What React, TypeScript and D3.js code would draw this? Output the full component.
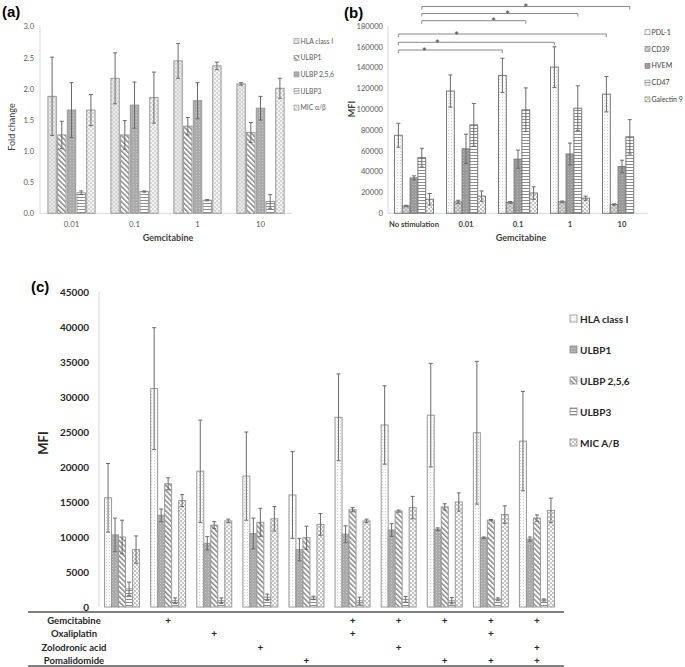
import React from 'react';
import * as d3 from 'd3';

// ---------- Panel (a) data ----------
const aCategories = ['0.01', '0.1', '1', '10'];
const aSeries = ['HLA class I', 'ULBP1', 'ULBP 2,5,6', 'ULBP3', 'MIC α/β'];
const aHLA = [1.88, 2.17, 2.45, 2.08];
const aHLAErr = [0.63, 0.41, 0.28, 0.02];
const aULBP1 = [1.26, 1.26, 1.4, 1.3];
const aULBP1Err = [0.22, 0.23, 0.14, 0.16];
const aULBP256 = [1.66, 1.74, 1.81, 1.69];
const aULBP256Err = [0.44, 0.37, 0.29, 0.19];
const aULBP3 = [0.33, 0.35, 0.21, 0.19];
const aULBP3Err = [0.03, 0.01, 0.01, 0.11];
const aMIC = [1.66, 1.86, 2.37, 2.01];
const aMICErr = [0.25, 0.41, 0.06, 0.16];
const aTicks = ['0.0', '0.5', '1.0', '1.5', '2.0', '2.5', '3.0'];

// ---------- Panel (b) data ----------
const bCategories = ['No stimulation', '0.01', '0.1', '1', '10'];
const bSeries = ['PDL-1', 'CD39', 'HVEM', 'CD47', 'Galectin 9'];
const bPDL1 = [75000, 117500, 132500, 140500, 114500];
const bPDL1Err = [11500, 15500, 16500, 19500, 17000];
const bCD39 = [7000, 11000, 10500, 11000, 8500];
const bCD39Err = [700, 1500, 800, 800, 600];
const bHVEM = [34000, 62000, 52000, 57000, 45000];
const bHVEMErr = [2000, 14000, 8700, 10500, 6000];
const bCD47 = [53500, 85000, 99500, 101000, 73500];
const bCD47Err = [9000, 20500, 21000, 21500, 16500];
const bGal9 = [13500, 16500, 19500, 14500, 0];
const bGal9Err = [5500, 5000, 6000, 2000, 0];
const bTicks = [0, 20000, 40000, 60000, 80000, 100000, 120000, 140000, 160000, 180000];
// significance brackets: series index, from group, to group, star position (fraction)
const bBrackets = [
  { series: 3, from: 0, to: 4, star: 0.5, level: 0 },
  { series: 3, from: 0, to: 3, star: 0.55, level: 1 },
  { series: 3, from: 0, to: 2, star: 0.69, level: 2 },
  { series: 0, from: 0, to: 4, star: 0.28, level: 3 },
  { series: 0, from: 0, to: 3, star: 0.25, level: 4 },
  { series: 0, from: 0, to: 2, star: 0.25, level: 5 },
];

// ---------- Panel (c) data ----------
const cGroups = ['g1', 'g2', 'g3', 'g4', 'g5', 'g6', 'g7', 'g8', 'g9', 'g10'];
const cSeries = ['HLA class I', 'ULBP1', 'ULBP 2,5,6', 'ULBP3', 'MIC A/B'];
const cHLA = [15600, 31200, 19400, 18700, 16000, 27100, 26000, 27400, 24900, 23700];
const cHLAErr = [4900, 8700, 7300, 6300, 6200, 6200, 5600, 7400, 10200, 7100];
const cULBP1 = [10300, 13100, 9100, 10500, 8200, 10400, 11000, 11100, 9900, 9700];
const cULBP1Err = [2400, 900, 950, 2200, 1600, 1200, 900, 200, 100, 300];
const cULBP256 = [10000, 17600, 11700, 12100, 9900, 13900, 13700, 14300, 12400, 12700];
const cULBP256Err = [2400, 850, 500, 2000, 1650, 300, 150, 450, 100, 450];
const cULBP3 = [2600, 900, 900, 1400, 1300, 900, 1100, 900, 1100, 1000];
const cULBP3Err = [950, 400, 400, 450, 250, 500, 400, 450, 200, 150];
const cMIC = [8200, 15200, 12300, 12600, 11800, 12300, 14200, 15000, 13200, 13800];
const cMICErr = [1950, 850, 250, 1750, 1550, 250, 1600, 1300, 1250, 1750];
const cTicks = [0, 5000, 10000, 15000, 20000, 25000, 30000, 35000, 40000, 45000];
const cDrugs = ['Gemcitabine', 'Oxaliplatin', 'Zolodronic acid', 'Pomalidomide'];
const cGem = [0, 1, 0, 0, 0, 1, 1, 1, 1, 1];
const cOxa = [0, 0, 1, 0, 0, 1, 0, 0, 1, 0];
const cZol = [0, 0, 0, 1, 0, 0, 1, 0, 0, 1];
const cPom = [0, 0, 0, 0, 1, 0, 0, 1, 1, 1];

const FONT = "Lato, 'Open Sans', 'Liberation Sans', sans-serif";

function Patterns() {
  const P = (id: string, w: number, children: React.ReactNode, transform?: string) => (
    <pattern id={id} width={w} height={w} patternUnits="userSpaceOnUse" patternTransform={transform}>
      {children}
    </pattern>
  );
  return (
    <defs>
      {P('dotsLight', 3, <>
        <rect width={3} height={3} fill="#fbfbfb" />
        <rect x={1} y={1} width={1} height={1} fill="#d2d2d2" />
      </>)}
      {P('crossLight', 4, <>
        <rect width={4} height={4} fill="#ebebeb" />
        <path d="M0,0 L4,4 M4,0 L0,4" stroke="#cdcdcd" strokeWidth={0.8} />
      </>)}
      {P('crossMid', 4, <>
        <rect width={4} height={4} fill="#dadada" />
        <path d="M0,0 L4,4 M4,0 L0,4" stroke="#a9a9a9" strokeWidth={0.8} />
      </>)}
      {P('diag', 3.6, <>
        <rect width={3.6} height={3.6} fill="#ffffff" />
        <rect width={1.5} height={3.6} fill="#8a8a8a" />
      </>, 'rotate(-45)')}
      {P('darkDots', 3, <>
        <rect width={3} height={3} fill="#ababab" />
        <rect x={1} y={1} width={1} height={1} fill="#c6c6c6" />
      </>)}
      {P('darkDotsB', 3, <>
        <rect width={3} height={3} fill="#9a9a9a" />
        <rect x={1} y={1} width={1} height={1} fill="#b8b8b8" />
      </>)}
      {P('horiz', 3, <>
        <rect width={3} height={3} fill="#ffffff" />
        <rect y={2} width={3} height={1} fill="#8c8c8c" />
      </>)}
      {P('checker', 4, <>
        <rect width={4} height={4} fill="#ffffff" />
        <rect width={2} height={2} fill="#c4c4c4" />
        <rect x={2} y={2} width={2} height={2} fill="#c4c4c4" />
      </>)}
      {P('checkerLight', 4, <>
        <rect width={4} height={4} fill="#f4f4f4" />
        <rect width={2} height={2} fill="#d6d6d6" />
        <rect x={2} y={2} width={2} height={2} fill="#d6d6d6" />
      </>)}
    </defs>
  );
}

type Series = { name: string; values: number[]; errors: number[]; fill: string };

function Bars({ series, x, y, barW, gap, stroke, capW, errColor }: {
  series: Series[]; x: d3.ScaleBand<string>; y: d3.ScaleLinear<number, number>;
  barW: number; gap: number; stroke: string; capW: number; errColor: string;
}) {
  const cats = x.domain();
  const groupW = series.length * barW + (series.length - 1) * gap;
  const out: React.ReactNode[] = [];
  cats.forEach((c, gi) => {
    const cx = (x(c) as number) + x.bandwidth() / 2;
    const start = cx - groupW / 2;
    series.forEach((s, si) => {
      const v = s.values[gi];
      if (!v) return;
      const bx = start + si * (barW + gap);
      const y0 = y(0);
      const yv = y(v);
      out.push(
        <rect key={`b${gi}-${si}`} x={bx} y={yv} width={barW} height={y0 - yv}
          fill={s.fill} stroke={stroke} strokeWidth={1} />
      );
      const e = s.errors[gi];
      if (e) {
        const mx = bx + barW / 2;
        const yt = y(v + e);
        const yb = y(v - e);
        out.push(
          <g key={`e${gi}-${si}`} stroke={errColor} strokeWidth={1} fill="none">
            <line x1={mx} x2={mx} y1={yt} y2={yb} />
            <line x1={mx - capW / 2} x2={mx + capW / 2} y1={yt} y2={yt} />
            <line x1={mx - capW / 2} x2={mx + capW / 2} y1={yb} y2={yb} />
          </g>
        );
      }
    });
  });
  return <g>{out}</g>;
}

function PanelA() {
  const x = d3.scaleBand<string>().domain(aCategories).range([40, 292]);
  const y = d3.scaleLinear().domain([0, 3]).range([213.3, 26.7]);
  const fills = ['url(#crossLight)', 'url(#diag)', 'url(#darkDots)', 'url(#horiz)', 'url(#checkerLight)'];
  const vals = [aHLA, aULBP1, aULBP256, aULBP3, aMIC];
  const errs = [aHLAErr, aULBP1Err, aULBP256Err, aULBP3Err, aMICErr];
  const series: Series[] = aSeries.map((n, i) => ({ name: n, values: vals[i], errors: errs[i], fill: fills[i] }));
  return (
    <g fontFamily={FONT}>
      <text x={2} y={17} fontSize={15} fontWeight="bold" fontFamily="'Liberation Sans', Arial, sans-serif">(a)</text>
      <line x1={40} x2={40} y1={26.7} y2={213.3} stroke="#d9d9d9" />
      <line x1={40} x2={292} y1={213.3} y2={213.3} stroke="#d9d9d9" />
      {aTicks.map((t) => (
        <text key={t} x={34} y={y(+t) + 2.7} fontSize={7.5} fill="#595959" textAnchor="end">{t}</text>
      ))}
      {aCategories.map((c) => (
        <text key={c} x={(x(c) as number) + x.bandwidth() / 2} y={227} fontSize={7.8} fill="#595959" textAnchor="middle">{c}</text>
      ))}
      <text x={168} y={240.5} fontSize={9} fontWeight="bold" fill="#404040" textAnchor="middle">Gemcitabine</text>
      <text transform="translate(15,127) rotate(-90)" fontSize={9} fill="#404040" textAnchor="middle">Fold change</text>
      <Bars series={series} x={x} y={y} barW={8.4} gap={1.3} stroke="#9a9a9a" capW={4} errColor="#6a6a6a" />
      {series.map((s, i) => (
        <g key={s.name} transform={`translate(294,${41.7 + i * 16.6})`}>
          <rect x={0} y={-3} width={5} height={5} fill={s.fill} stroke="#8a8a8a" strokeWidth={0.6} />
          <text x={6.5} y={2} fontSize={6.8} fill="#595959">{s.name}</text>
        </g>
      ))}
    </g>
  );
}

function PanelB() {
  const x = d3.scaleBand<string>().domain(bCategories).range([388, 648]);
  const y = d3.scaleLinear().domain([0, 180000]).range([213.3, 26]);
  const fills = ['url(#dotsLight)', 'url(#crossMid)', 'url(#darkDotsB)', 'url(#horiz)', 'url(#checker)'];
  const vals = [bPDL1, bCD39, bHVEM, bCD47, bGal9];
  const errs = [bPDL1Err, bCD39Err, bHVEMErr, bCD47Err, bGal9Err];
  const series: Series[] = bSeries.map((n, i) => ({ name: n, values: vals[i], errors: errs[i], fill: fills[i] }));
  const barW = 7.8;
  const groupW = series.length * barW;
  const barCenter = (g: number, s: number) =>
    (x(bCategories[g]) as number) + x.bandwidth() / 2 - groupW / 2 + s * barW + barW / 2;
  const levels = [6.5, 13.5, 20.7, 34, 42.3, 50];
  return (
    <g fontFamily={FONT}>
      <text x={344} y={18} fontSize={15} fontWeight="bold" fontFamily="'Liberation Sans', Arial, sans-serif">(b)</text>
      <line x1={388} x2={388} y1={26} y2={213.3} stroke="#d9d9d9" />
      <line x1={388} x2={648} y1={213.3} y2={213.3} stroke="#d9d9d9" />
      {bTicks.map((t) => (
        <text key={t} x={383} y={y(t) + 2.7} fontSize={7.6} fill="#595959" textAnchor="end">{t}</text>
      ))}
      {bCategories.map((c) => (
        <text key={c} x={(x(c) as number) + x.bandwidth() / 2} y={226.5} fontSize={7.6} fontWeight="bold" fill="#404040" textAnchor="middle">{c}</text>
      ))}
      <text x={521} y={241} fontSize={9} fontWeight="bold" fill="#404040" textAnchor="middle">Gemcitabine</text>
      <text transform="translate(355,109) rotate(-90)" fontSize={9} fontWeight="bold" fill="#404040" textAnchor="middle">MFI</text>
      <Bars series={series} x={x} y={y} barW={barW} gap={0} stroke="#7a7a7a" capW={4} errColor="#6a6a6a" />
      {bBrackets.map((b, i) => {
        const x1 = barCenter(b.from, b.series);
        const x2 = barCenter(b.to, b.series);
        const ly = levels[b.level];
        return (
          <g key={i}>
            <path d={`M${x1},${ly + 3} L${x1},${ly} L${x2},${ly} L${x2},${ly + 3}`} fill="none" stroke="#8a8a8a" strokeWidth={1} />
            <text x={x1 + (x2 - x1) * b.star} y={ly + 5.5} fontSize={12} fill="#404040" textAnchor="middle">*</text>
          </g>
        );
      })}
      {series.map((s, i) => (
        <g key={s.name} transform={`translate(645,${32.7 + i * 16.8})`}>
          <rect x={0} y={-3} width={5} height={5} fill={s.fill} stroke="#7a7a7a" strokeWidth={0.6} />
          <text x={6.5} y={2} fontSize={7} fill="#404040">{s.name}</text>
        </g>
      ))}
    </g>
  );
}

function PanelC() {
  const x = d3.scaleBand<string>().domain(cGroups).range([99, 560]);
  const y = d3.scaleLinear().domain([0, 45000]).range([607, 292]);
  const fills = ['url(#dotsLight)', 'url(#darkDots)', 'url(#diag)', 'url(#horiz)', 'url(#checker)'];
  const vals = [cHLA, cULBP1, cULBP256, cULBP3, cMIC];
  const errs = [cHLAErr, cULBP1Err, cULBP256Err, cULBP3Err, cMICErr];
  const series: Series[] = cSeries.map((n, i) => ({ name: n, values: vals[i], errors: errs[i], fill: fills[i] }));
  const flags = [cGem, cOxa, cZol, cPom];
  const rowY = [620, 633.5, 647, 660];
  return (
    <g fontFamily={FONT}>
      <text x={31} y={292} fontSize={15} fontWeight="bold" fontFamily="'Liberation Sans', Arial, sans-serif">(c)</text>
      <line x1={99} x2={99} y1={292} y2={607} stroke="#d9d9d9" />
      {cTicks.map((t) => (
        <text key={t} x={89} y={y(t) + 3.5} fontSize={10} fontWeight="bold" fill="#262626" textAnchor="end">{t}</text>
      ))}
      <text transform="translate(48,443) rotate(-90)" fontSize={13} fontWeight="bold" fill="#262626" textAnchor="middle">MFI</text>
      <Bars series={series} x={x} y={y} barW={7} gap={0} stroke="#999999" capW={4} errColor="#6a6a6a" />
      <line x1={28} x2={564} y1={612} y2={612} stroke="#555" strokeWidth={1.5} />
      <line x1={28} x2={564} y1={666} y2={666} stroke="#555" strokeWidth={1.5} />
      {cDrugs.map((d, r) => (
        <g key={d}>
          <text x={74} y={rowY[r] + 3.5} fontSize={9.5} fontWeight="bold" fill="#262626" textAnchor="middle">{d}</text>
          {flags[r].map((f, gi) => f ? (
            <text key={gi} x={(x(cGroups[gi]) as number) + x.bandwidth() / 2} y={rowY[r] + 3.5} fontSize={10} fontWeight="bold" fill="#262626" textAnchor="middle">+</text>
          ) : null)}
        </g>
      ))}
      {series.map((s, i) => (
        <g key={s.name} transform={`translate(570,${319 + i * 31})`}>
          <rect x={0} y={-4} width={7} height={7} fill={s.fill} stroke="#8a8a8a" strokeWidth={0.8} />
          <text x={10} y={3.5} fontSize={10} fontWeight="bold" fill="#262626">{s.name}</text>
        </g>
      ))}
    </g>
  );
}

export default function App() {
  return (
    <svg width={685} height={667} style={{ position: 'absolute', left: 0, top: 0, background: '#fff' }}>
      <Patterns />
      <rect width={685} height={667} fill="#fff" />
      <PanelA />
      <PanelB />
      <PanelC />
    </svg>
  );
}
